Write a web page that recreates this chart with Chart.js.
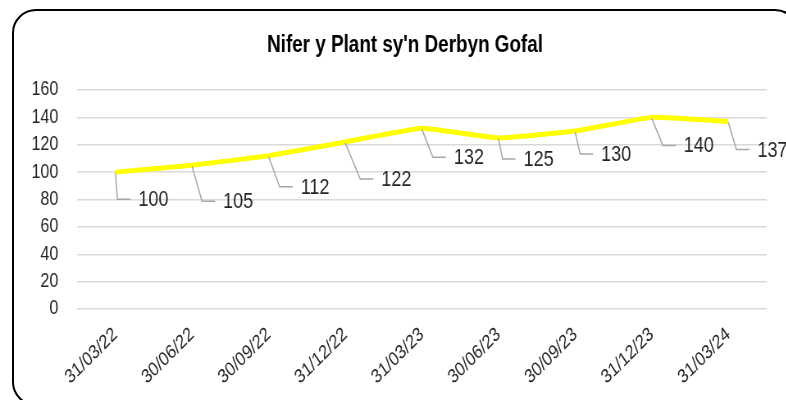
<!DOCTYPE html>
<html>
<head>
<meta charset="utf-8">
<script src="https://cdn.jsdelivr.net/npm/chart.js@4.4.1/dist/chart.umd.min.js"></script>
<style>
  html, body { margin: 0; padding: 0; background: #fff; overflow: hidden; }
  #wrap { position: relative; width: 786px; height: 400px; overflow: hidden; }
  #frame {
    position: absolute; left: 12px; top: 9px; width: 787px; height: 397px;
    border: 2px solid #000; border-radius: 24px; box-sizing: border-box;
  }
  /* no narrow font installed, so squeeze the canvas to get the Arial Narrow look */
  #chart { position: absolute; left: 0; top: 0; transform: scaleX(0.82); transform-origin: 0 0; }
</style>
</head>
<body>
<div id="wrap">
  <div id="frame"></div>
  <canvas id="chart" width="959" height="400"></canvas>
</div>
<script>
const SX = 0.82;
const FONT = "'Liberation Sans', Arial, sans-serif";

const title = "Nifer y Plant sy'n Derbyn Gofal";
const dates = ['31/03/22', '30/06/22', '30/09/22', '31/12/22', '31/03/23', '30/06/23', '30/09/23', '31/12/23', '31/03/24'];
const children = [100, 105, 112, 122, 132, 125, 130, 140, 137];
const yTicks = [0, 20, 40, 60, 80, 100, 120, 140, 160];

// where each value label sits, relative to its point (screen px, Excel's own placement)
const labelShift = [[23, 27], [31, 36], [32, 31], [36, 37], [32, 29], [25, 21], [26, 23], [32, 28], [29, 28]];

// title sits a bit left of the plot centre, like Excel put it
const chartTitle = {
  id: 'chartTitle',
  afterDraw(chart) {
    const c = chart.ctx;
    c.save();
    c.font = 'bold 23px ' + FONT;
    c.fillStyle = '#000';
    c.textAlign = 'center';
    c.textBaseline = 'alphabetic';
    c.fillText(title, 405 / SX, 52);
    c.restore();
  }
};

// leader lines + value labels
const calloutLabels = {
  id: 'calloutLabels',
  afterDatasetsDraw(chart) {
    const c = chart.ctx;
    const pts = chart.getDatasetMeta(0).data;
    c.save();
    c.font = '22px ' + FONT;
    c.textBaseline = 'middle';
    c.textAlign = 'left';
    pts.forEach((p, i) => {
      const tx = p.x + labelShift[i][0] / SX;
      const ty = p.y + labelShift[i][1];
      c.strokeStyle = '#a6a6a6';
      c.lineWidth = 1.5;
      c.beginPath();
      c.moveTo(p.x, p.y + 1);
      c.lineTo(tx - 21 / SX, ty);
      c.lineTo(tx - 8 / SX, ty);
      c.stroke();
      c.fillStyle = '#262626';
      c.fillText(String(children[i]), tx, ty + 1);
    });
    c.restore();
  }
};

new Chart(document.getElementById('chart'), {
  type: 'line',
  data: {
    labels: dates,
    datasets: [{
      data: children,
      borderColor: '#ffff00',
      borderWidth: 5,
      pointRadius: 0,
      tension: 0.1,
      clip: false
    }]
  },
  options: {
    responsive: false,
    animation: false,
    layout: { padding: { left: 0, right: 24, top: 90, bottom: 0 } },
    plugins: {
      legend: { display: false },
      tooltip: { enabled: false },
      title: { display: false }
    },
    scales: {
      x: {
        offset: true,
        grid: { display: false, drawTicks: false },
        border: { display: false },
        ticks: {
          maxRotation: 39.4, minRotation: 39.4,
          padding: 14,
          color: '#262626',
          font: { family: FONT, size: 19.5 }
        },
        afterFit(s) { s.height = 91; }
      },
      y: {
        min: 0, max: 160,
        afterBuildTicks(s) { s.ticks = yTicks.map(v => ({ value: v })); },
        grid: { color: '#d9d9d9', lineWidth: 1.5, drawTicks: false },
        border: { display: false },
        ticks: {
          padding: 23,
          color: '#262626',
          font: { family: FONT, size: 19.5 }
        },
        afterFit(s) { s.width = 94; }
      }
    }
  },
  plugins: [calloutLabels, chartTitle]
});
</script>
</body>
</html>
